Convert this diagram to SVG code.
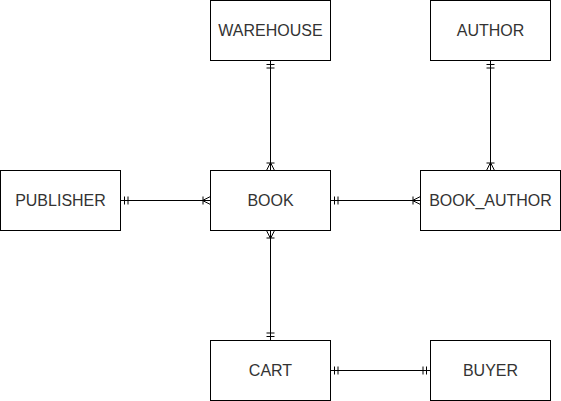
<svg xmlns="http://www.w3.org/2000/svg" width="561" height="401" viewBox="0 0 561 401">
<defs>
<style>
.box{fill:#fff;stroke:#000;stroke-width:1}
.lbl{font-family:"Liberation Sans",Arial,sans-serif;font-size:16px;fill:#333;text-anchor:middle}
.edge{fill:none;stroke:#000;stroke-width:1}
.mk{fill:none;stroke:#000;stroke-width:1}
</style>
<marker id="one" markerUnits="userSpaceOnUse" viewBox="-10 -6 12 12" refX="0" refY="0" markerWidth="12" markerHeight="12" orient="auto-start-reverse" overflow="visible">
<path class="mk" d="M-4,-4 V4 M-7.5,-4 V4"/>
</marker>
<marker id="many" markerUnits="userSpaceOnUse" viewBox="-10 -6 12 12" refX="0" refY="0" markerWidth="12" markerHeight="12" orient="auto-start-reverse" overflow="visible">
<path class="mk" d="M-8,0 L0,-4 M-8,0 L0,4 M-7.5,-4 V4"/>
</marker>
</defs>
<g id="connectors">
<path class="edge" d="M270.5,60.5 V170.5" marker-start="url(#one)" marker-end="url(#many)"/>
<path class="edge" d="M490.5,60.5 V170.5" marker-start="url(#one)" marker-end="url(#many)"/>
<path class="edge" d="M120.5,200.5 H210.5" marker-start="url(#one)" marker-end="url(#many)"/>
<path class="edge" d="M330.5,200.5 H420.5" marker-start="url(#one)" marker-end="url(#many)"/>
<path class="edge" d="M270.5,230.5 V340.5" marker-start="url(#many)" marker-end="url(#one)"/>
<path class="edge" d="M330.5,370.5 H430.5" marker-start="url(#one)" marker-end="url(#one)"/>
</g>
<g id="warehouse"><rect class="box" x="210.5" y="0.5" width="120" height="60"/><text class="lbl" x="270.5" y="36">WAREHOUSE</text></g>
<g id="author"><rect class="box" x="430.5" y="0.5" width="120" height="60"/><text class="lbl" x="490.5" y="36">AUTHOR</text></g>
<g id="publisher"><rect class="box" x="0.5" y="170.5" width="120" height="60"/><text class="lbl" x="60.5" y="206">PUBLISHER</text></g>
<g id="book"><rect class="box" x="210.5" y="170.5" width="120" height="60"/><text class="lbl" x="270.5" y="206">BOOK</text></g>
<g id="book_author"><rect class="box" x="420.5" y="170.5" width="140" height="60"/><text class="lbl" x="490.5" y="206">BOOK_AUTHOR</text></g>
<g id="cart"><rect class="box" x="210.5" y="340.5" width="120" height="60"/><text class="lbl" x="270.5" y="376">CART</text></g>
<g id="buyer"><rect class="box" x="430.5" y="340.5" width="120" height="60"/><text class="lbl" x="490.5" y="376">BUYER</text></g>
</svg>
